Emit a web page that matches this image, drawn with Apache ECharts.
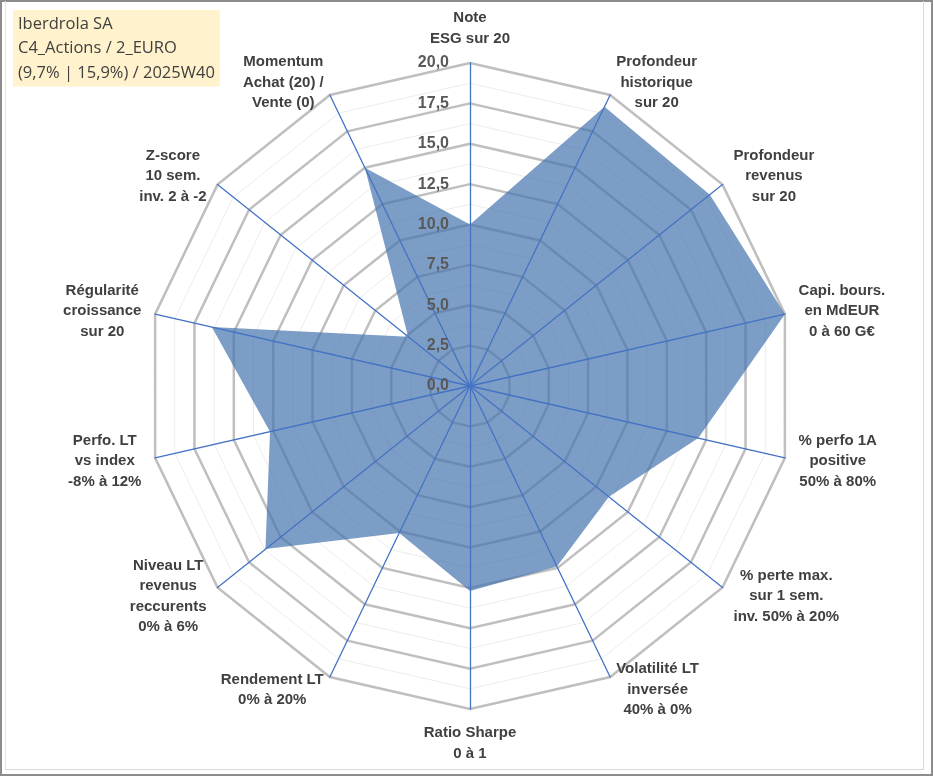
<!DOCTYPE html>
<html><head><meta charset="utf-8">
<script src="https://cdn.jsdelivr.net/npm/echarts@6/dist/echarts.min.js"></script>
<style>
html,body{margin:0;padding:0;background:#fff;}
#frame{position:absolute;left:0;top:0;width:933px;height:776px;box-sizing:border-box;border:2px solid #8c8c8c;}
#inner{position:absolute;left:5px;top:1px;width:917px;height:768px;border-right:1px solid #d9d9d9;border-bottom:1px solid #d9d9d9;border-left:1px solid #e3e3e3;}
#chart{position:absolute;left:0;top:0;width:933px;height:776px;}
</style></head>
<body>
<div id="frame"></div><div id="inner"></div>
<div id="chart"></div>
<script>
const categories = [
  'Note\nESG sur 20',
  'Profondeur\nhistorique\nsur 20',
  'Profondeur\nrevenus\nsur 20',
  'Capi. bours.\nen MdEUR\n0 à 60 G€',
  '% perfo 1A\npositive\n50% à 80%',
  '% perte max.\nsur 1 sem.\ninv. 50% à 20%',
  'Volatilité LT\ninversée\n40% à 0%',
  'Ratio Sharpe\n0 à 1',
  'Rendement LT\n0% à 20%',
  'Niveau LT\nrevenus\nreccurents\n0% à 6%',
  'Perfo. LT\nvs index\n-8% à 12%',
  'Régularité\ncroissance\nsur 20',
  'Z-score\n10 sem.\ninv. 2 à -2',
  'Momentum\nAchat (20) /\nVente (0)'
];
const scores = [10, 19.2, 19.0, 20, 14.5, 11.0, 12.4, 12.7, 10.1, 16.2, 12.7, 16.4, 4.9, 15.0];
const scaleMin = 0;
const scaleMax = 20;
const tickStep = 2.5;
const titleLines = ['Iberdrola SA', 'C4_Actions / 2_EURO', '(9,7% | 15,9%) / 2025W40'];

// layout
const CX = 470, CY = 386, R = 323;

// ECharts radar runs counter-clockwise; Excel runs clockwise -> reorder
const order = [0];
for (let i = categories.length - 1; i >= 1; i--) order.push(i);
const indicators = order.map(i => ({ name: categories[i], min: scaleMin, max: scaleMax }));
const values = order.map(i => scores[i]);

const nameFont = { fontFamily: 'Liberation Sans, Arial, sans-serif', fontWeight: 'bold', fontSize: 15, color: '#404040', lineHeight: 20.5 };

const baseRadar = {
  center: [CX, CY], radius: R, startAngle: 90, shape: 'polygon',
  indicator: indicators,
  axisName: { show: false },
  axisLine: { show: false },
  axisTick: { show: false },
  axisLabel: { show: false },
  splitArea: { show: false }
};

const chart = echarts.init(document.getElementById('chart'), null, { renderer: 'canvas' });
chart.setOption({
  animation: false,
  backgroundColor: 'transparent',
  title: {
    text: titleLines.join('\n'),
    left: 13, top: 10,
    backgroundColor: '#FFF2CC',
    padding: [2, 5, 1, 5],
    textStyle: { fontFamily: 'Open Sans, Liberation Sans, sans-serif', fontWeight: 'normal', fontSize: 16.5, color: '#404040', lineHeight: 24.5 }
  },
  radar: [
    Object.assign({}, baseRadar, {
      splitNumber: (scaleMax - scaleMin) / tickStep * 2,
      splitLine: { lineStyle: { color: '#ececec', width: 1 } }
    }),
    Object.assign({}, baseRadar, {
      splitNumber: (scaleMax - scaleMin) / tickStep,
      splitLine: { lineStyle: { color: '#bfbfbf', width: 2.5 } }
    }),
    Object.assign({}, baseRadar, {
      z: 5,
      splitNumber: 1,
      splitLine: { show: false },
      axisLine: { show: true, lineStyle: { color: '#4472C4', width: 1.3 } },
      nameGap: 14,
      axisName: Object.assign({
        show: true,
        formatter: function (name) {
          return name.split('\n').map(s => '{c|' + s + '}').join('\n');
        },
        rich: { c: Object.assign({ align: 'center' }, nameFont) }
      }, nameFont)
    })
  ],
  grid: { left: CX, top: CY - R, height: R, width: 10, show: false },
  xAxis: { type: 'value', show: false },
  yAxis: {
    type: 'value', min: scaleMin, max: scaleMax, interval: tickStep, z: 6,
    axisLine: { show: false }, axisTick: { show: false }, splitLine: { show: false },
    axisLabel: {
      margin: 21,
      formatter: v => v.toFixed(1).replace('.', ','),
      fontFamily: 'Liberation Sans, Arial, sans-serif', fontWeight: 'bold', fontSize: 16, color: '#595959'
    }
  },
  series: [{
    type: 'radar',
    radarIndex: 1,
    z: 2,
    symbol: 'none',
    lineStyle: { width: 0 },
    areaStyle: { color: 'rgb(68,116,174)', opacity: 0.7 },
    data: [{ value: values, name: 'Iberdrola SA' }]
  }]
});
</script>
</body></html>
